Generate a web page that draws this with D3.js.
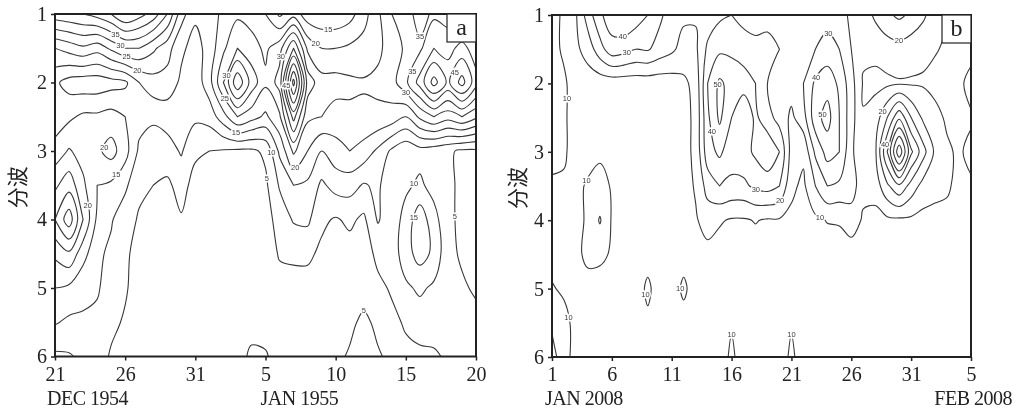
<!DOCTYPE html>
<html>
<head>
<meta charset="utf-8">
<script src="https://cdn.jsdelivr.net/npm/d3@7"></script>
<style>
  body { margin: 0; background: #fff; }
  svg { display: block; will-change: transform; }
  .tick text { font-family: "Liberation Serif", serif; font-size: 20px; fill: #222; }
  .tick line { stroke: #222; stroke-width: 1.5; }
  .clab { font-family: "Liberation Sans", Arial, sans-serif; font-size: 7.5px; fill: #3a3a3a;
          stroke: #fff; stroke-width: 3px; paint-order: stroke; }
</style>
</head>
<body>
<svg id="chart" width="1015" height="408"></svg>
<script>
// rows of the grids: wave number 1 .. 6 every half step
var waves = [1, 1.5, 2, 2.5, 3, 3.5, 4, 4.5, 5, 5.5, 6];
var yTicks = [1, 2, 3, 4, 5, 6];

// panel a : 21 Dec 1954 .. 20 Jan 1955, one column per day
var tickDaysA = [0, 5, 10, 15, 20, 25, 30];
var tickLabelsA = ["21", "26", "31", "5", "10", "15", "20"];
var levelsA = [5, 10, 15, 20, 25, 30, 35, 40, 45, 50, 55, 60];
var gridA = [
  [38, 39, 40, 42, 45, 50, 47, 43, 35, 22, 16, 18, 21, 24, 23, 20, 14, 18, 12, 11, 11, 13, 18, 24, 30, 33, 37, 34, 33, 31, 33],
  [20, 22, 24, 22, 26, 30, 30, 26, 22, 16, 13, 17, 24, 30, 27, 24, 28, 40, 24, 20, 20, 21, 22, 24, 27, 31, 34, 40, 38, 42, 37],
  [11, 8, 7, 7, 8, 9, 15, 18, 18, 14, 12, 18, 30, 44, 33, 26, 32, 62, 33, 27, 27, 26, 25.5, 26, 28, 34, 42, 52, 44, 52, 42],
  [12, 14, 16, 16, 17, 15, 12, 11, 12, 13, 11, 12, 18, 25, 22, 19, 24, 42, 26, 25, 23, 24, 24, 24, 23, 20, 26, 30, 27, 30, 26],
  [17, 20.5, 18, 19, 22, 17, 9, 7, 8, 10.5, 6, 5, 4.5, 4, 4, 6, 16, 26, 20, 15, 18, 20, 18, 14, 9, 6, 8, 7, 6, 4, 4],
  [24, 28, 21, 15, 14, 11, 6, 5, 4, 7, 3, 3, 3, 3, 3, 4, 10.5, 15, 14, 9, 12, 12, 9.5, 11, 6, 9, 11, 8, 6, 4, 3],
  [30, 38, 25, 14, 10.5, 7, 4.5, 3, 3, 4.5, 2, 2, 2, 2, 2, 3, 7, 10.5, 11, 6, 4.5, 6, 4, 10.5, 7, 12, 18, 12, 6, 4, 3],
  [21, 24, 17, 11, 9, 6, 3, 2, 2, 3, 2, 2, 2, 2, 2, 2, 5.5, 6, 6, 4, 3, 3, 3, 6, 7, 13, 17, 14, 6, 4.5, 4],
  [15, 14, 11, 10.5, 8, 5.5, 3, 2, 2, 2, 2, 2, 2, 2, 2, 2, 3, 3, 3, 2, 2, 2, 3, 4, 5.5, 9, 11, 9, 6, 5.5, 4.5],
  [10.5, 9, 9.5, 9, 6, 4.5, 3, 2, 2, 2, 2, 2, 2, 2, 3, 3, 2, 2, 2, 2, 3, 4, 6, 4, 4, 5.5, 7, 6.5, 6, 6, 6],
  [4, 4.5, 6, 7, 4.5, 4, 3, 2, 2, 2, 2, 2, 2, 3, 6, 5.5, 3, 2, 2, 2, 4, 5.5, 7, 5.5, 4, 4, 4, 4.5, 5.5, 6, 6]
];

// panel b : 1 Jan .. 5 Feb 2008, one column per day
var tickDaysB = [0, 5, 10, 15, 20, 25, 30, 35];
var tickLabelsB = ["1", "6", "11", "16", "21", "26", "31", "5"];
var levelsB = [10, 20, 30, 40, 50, 60, 70, 80];
var gridB = [
  [12, 9, 9, 25, 38, 46, 50, 46, 40, 32, 25, 22, 21, 24, 28, 30, 26, 24, 28, 28, 26, 24, 24, 26, 24, 18, 14, 22, 28, 32, 28, 22, 14, 10.5, 8, 8],
  [12, 9, 8, 14, 26, 36, 34, 30, 31, 26, 22, 16, 18, 32, 38, 38, 36, 34, 32, 30, 26, 28, 30, 34, 30, 20, 12, 12, 15, 16, 14, 12, 10.5, 9, 7, 7],
  [12, 11, 7, 5, 4, 4, 4, 4, 4, 4, 5, 8, 13, 40, 52, 46, 44, 40, 30, 28, 24, 30, 42, 46, 38, 24, 9, 8, 8, 9, 9, 9, 8, 8, 8, 13],
  [12, 11, 7, 5, 5, 5, 5, 5, 5, 5, 5, 7, 12, 38, 52, 40, 32, 42, 34, 26, 18, 26, 46, 54, 40, 24, 10.5, 14, 30, 48, 30, 18, 12, 9, 8, 9],
  [12, 11, 7, 7, 9, 8, 6, 5, 5, 5, 5, 7, 12, 36, 42, 34, 36, 42, 48, 40, 16, 12, 32, 44, 40, 22, 12, 18, 50, 88, 52, 34, 18, 11, 9, 12],
  [9, 9, 8, 11, 12, 9.5, 7, 5, 5, 5, 5, 6, 11, 24, 30, 28, 28, 32, 34, 30, 12, 8, 20, 30, 28, 26, 12, 14, 28, 38, 26, 16, 12, 10.5, 9, 9],
  [8, 8, 8, 11, 21, 9, 7, 6, 6, 6, 6, 7, 9, 14, 11, 9, 9, 10.5, 9, 9, 8, 7, 8, 10.5, 11, 14, 9, 7, 8, 8, 8, 7, 8, 9, 6, 6],
  [8, 8, 8, 12, 12, 9, 7, 6, 6, 6, 6, 6, 6, 7, 6, 5, 5, 6, 5, 5, 5, 5, 5, 5, 5, 6, 5, 5, 5, 5, 5, 5, 5, 5, 5, 5],
  [10.5, 9, 9.5, 7, 6, 5, 5, 5, 12, 5, 5, 12, 5, 5, 5, 5, 5, 5, 5, 5, 5, 5, 5, 5, 5, 5, 5, 5, 5, 5, 5, 5, 5, 5, 5, 5],
  [11, 12, 8, 6, 5, 5, 5, 5, 8, 5, 5, 6, 5, 5, 5, 9, 5, 5, 5, 5, 9, 5, 5, 5, 5, 5, 5, 5, 5, 5, 5, 5, 5, 5, 5, 5],
  [8, 13, 7, 5, 5, 5, 5, 5, 5, 5, 5, 5, 5, 5, 5, 12, 5, 5, 5, 5, 12, 5, 5, 5, 5, 5, 5, 5, 5, 5, 5, 5, 5, 5, 5, 5]
];

var svg = d3.select("#chart");

// contour lines as open / closed runs, leaving out the pieces along the grid border
function contourRuns(grid, levels) {
  var ny = grid.length, nx = grid[0].length;
  var W = nx + 2, H = ny + 2;
  var vals = new Array(W * H).fill(-1e6);
  grid.forEach(function(row, j) {
    row.forEach(function(v, i) { vals[(j + 1) * W + i + 1] = v; });
  });
  var eps = 1e-3, runs = [];
  function mask(p) {
    return (p[0] < eps ? 1 : 0) | (p[0] > nx - 1 - eps ? 2 : 0) |
           (p[1] < eps ? 4 : 0) | (p[1] > ny - 1 - eps ? 8 : 0);
  }
  d3.contours().size([W, H]).thresholds(levels)(vals).forEach(function(mp) {
    mp.coordinates.forEach(function(poly) {
      poly.forEach(function(ring) {
        var pts = ring.map(function(p) { return [p[0] - 1.5, p[1] - 1.5]; });
        var n = pts.length - 1;
        if (n < 3) return;
        var m = pts.map(mask), keep = [];
        for (var i = 0; i < n; i++) keep.push((m[i] & m[(i + 1) % n]) === 0);
        if (keep.every(Boolean)) {
          runs.push({ level: mp.value, pts: pts.slice(0, n), closed: true });
          return;
        }
        var start = keep.indexOf(false), cur = null;
        for (var k = 1; k <= n; k++) {
          var s = (start + k) % n;
          if (keep[s]) {
            if (!cur) cur = [pts[s]];
            cur.push(pts[(s + 1) % n]);
          } else if (cur) {
            runs.push({ level: mp.value, pts: cur, closed: false });
            cur = null;
          }
        }
      });
    });
  });
  return runs;
}

function drawPanel(cfg) {
  var nx = cfg.grid[0].length, ny = cfg.grid.length;
  var x = d3.scaleLinear().domain([0, nx - 1]).range(cfg.xRange);
  var y = d3.scaleLinear().domain([waves[0], waves[waves.length - 1]]).range(cfg.yRange);
  var row = d3.scaleLinear().domain([0, ny - 1]).range([waves[0], waves[waves.length - 1]]);

  var g = svg.append("g");
  var clipId = "clip" + cfg.name;
  svg.append("clipPath").attr("id", clipId).append("rect")
    .attr("x", cfg.xRange[0]).attr("y", cfg.yRange[0])
    .attr("width", cfg.xRange[1] - cfg.xRange[0]).attr("height", cfg.yRange[1] - cfg.yRange[0]);

  var runs = contourRuns(cfg.grid, cfg.levels);
  var px = function(p) { return [x(p[0]), y(row(p[1]))]; };
  var openLine = d3.line().curve(d3.curveCatmullRom.alpha(0.5));
  var closedLine = d3.line().curve(d3.curveCatmullRomClosed.alpha(0.5));

  var lines = g.append("g").attr("clip-path", "url(#" + clipId + ")");
  runs.forEach(function(r) {
    var pp = r.pts.map(px);
    lines.append("path")
      .attr("d", r.closed ? closedLine(pp) : openLine(pp))
      .attr("fill", "none")
      .attr("stroke", "#383838")
      .attr("stroke-width", 1.1)
      .attr("stroke-linejoin", "round");
  });

  // labels on the longer lines
  var placed = [];
  var labs = g.append("g");
  runs.forEach(function(r) {
    var pp = r.pts.map(px);
    if (r.closed) pp = pp.concat([pp[0]]);
    var len = [0];
    for (var i = 1; i < pp.length; i++)
      len.push(len[i - 1] + Math.hypot(pp[i][0] - pp[i - 1][0], pp[i][1] - pp[i - 1][1]));
    var total = len[len.length - 1];
    if (total < 45) return;
    var target = total * 0.5, j = 1;
    while (j < len.length - 1 && len[j] < target) j++;
    var t = (target - len[j - 1]) / ((len[j] - len[j - 1]) || 1);
    var lx = pp[j - 1][0] + t * (pp[j][0] - pp[j - 1][0]);
    var ly = pp[j - 1][1] + t * (pp[j][1] - pp[j - 1][1]);
    if (lx < cfg.xRange[0] + 8 || lx > cfg.xRange[1] - 8 || ly < cfg.yRange[0] + 6 || ly > cfg.yRange[1] - 6) return;
    if (placed.some(function(q) { return Math.abs(q[0] - lx) < 16 && Math.abs(q[1] - ly) < 9; })) return;
    placed.push([lx, ly]);
    labs.append("text").attr("class", "clab")
      .attr("x", lx).attr("y", ly).attr("dy", "0.35em")
      .attr("text-anchor", "middle")
      .text(r.level);
  });

  // axes
  var xAxis = d3.axisBottom(x).tickValues(cfg.tickDays)
    .tickFormat(function(d, i) { return cfg.tickLabels[i]; })
    .tickSize(4).tickPadding(6);
  g.append("g").attr("transform", "translate(0," + cfg.yRange[1] + ")").call(xAxis)
    .call(function(a) { a.select(".domain").remove(); });
  var yAxis = d3.axisLeft(y).tickValues(yTicks).tickFormat(d3.format("d"))
    .tickSize(4).tickPadding(4);
  g.append("g").attr("transform", "translate(" + cfg.xRange[0] + ",0)").call(yAxis)
    .call(function(a) { a.select(".domain").remove(); });

  // frame
  g.append("rect")
    .attr("x", cfg.xRange[0]).attr("y", cfg.yRange[0])
    .attr("width", cfg.xRange[1] - cfg.xRange[0]).attr("height", cfg.yRange[1] - cfg.yRange[0])
    .attr("fill", "none").attr("stroke", "#222").attr("stroke-width", 2);

  // panel letter
  var bx = cfg.xRange[1] - 29, by = cfg.yRange[0];
  g.append("rect").attr("x", bx).attr("y", by).attr("width", 29).attr("height", 28)
    .attr("fill", "#fff").attr("stroke", "#222").attr("stroke-width", 1.2);
  g.append("text").attr("x", bx + 14.5).attr("y", by + 21)
    .attr("text-anchor", "middle")
    .style("font-family", "Liberation Serif, serif").style("font-size", "24px").style("fill", "#222")
    .text(cfg.name);

  // y title
  g.append("text")
    .attr("transform", "translate(" + cfg.titleX + "," + ((cfg.yRange[0] + cfg.yRange[1]) / 2 + 2) + ") rotate(-90)")
    .attr("text-anchor", "middle").attr("dy", "0.35em")
    .style("font-family", "Noto Sans CJK SC, sans-serif").style("font-size", "21px").style("fill", "#222")
    .text("分波");

  // month captions
  cfg.captions.forEach(function(c) {
    g.append("text")
      .attr("x", x(c.day) + c.dx).attr("y", 404.5)
      .attr("text-anchor", c.anchor)
      .style("font-family", "Liberation Serif, serif").style("font-size", "20px")
      .style("letter-spacing", "-0.5px").style("fill", "#222")
      .text(c.text);
  });
}

drawPanel({
  name: "a", grid: gridA, levels: levelsA,
  tickDays: tickDaysA, tickLabels: tickLabelsA,
  xRange: [55, 476], yRange: [14, 356.5], titleX: 18,
  captions: [
    { day: 0, text: "DEC 1954", dx: -8, anchor: "start" },
    { day: 15, text: "JAN 1955", dx: -5, anchor: "start" }
  ]
});
drawPanel({
  name: "b", grid: gridB, levels: levelsB,
  tickDays: tickDaysB, tickLabels: tickLabelsB,
  xRange: [552, 971], yRange: [15, 357], titleX: 518,
  captions: [
    { day: 0, text: "JAN 2008", dx: -7, anchor: "start" },
    { day: 35, text: "FEB 2008", dx: 41, anchor: "end" }
  ]
});
</script>
</body>
</html>
